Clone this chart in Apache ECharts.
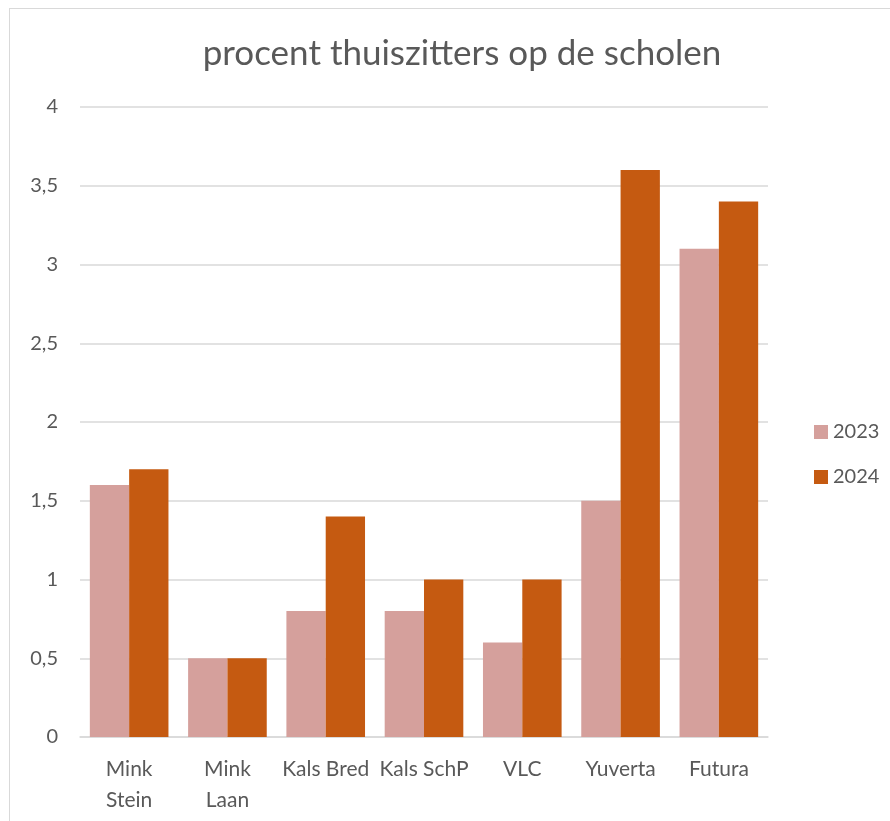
<!DOCTYPE html>
<html>
<head>
<meta charset="utf-8">
<script src="https://cdn.jsdelivr.net/npm/echarts@6/dist/echarts.min.js"></script>
<style>
  html, body { margin: 0; padding: 0; background: #fff; overflow: hidden; }
  #wrap { position: relative; width: 890px; height: 821px; }
  #frame { position: absolute; left: 9px; top: 8px; width: 1000px; height: 1000px;
           border: 1px solid #d9d9d9; box-sizing: border-box; pointer-events: none; }
  #chart { position: absolute; left: 0; top: 0; width: 890px; height: 821px; }
</style>
</head>
<body>
<div id="wrap">
  <div id="frame"></div>
  <div id="chart"></div>
</div>
<script>
// scholen en percentages thuiszitters
var scholen = ['Mink\nStein', 'Mink\nLaan', 'Kals Bred', 'Kals SchP', 'VLC', 'Yuverta', 'Futura'];
var jaren = ['2023', '2024'];
var waarden2023 = [1.6, 0.5, 0.8, 0.8, 0.6, 1.5, 3.1];
var waarden2024 = [1.7, 0.5, 1.4, 1.0, 1.0, 3.6, 3.4];
var kleuren = ['#d5a09c', '#c55a11'];

var myChart = echarts.init(document.getElementById('chart'));
var tekst = '#595959';
var font = 'Lato, "Open Sans", sans-serif';

var option = {
    animation: false,
    title: {
        text: 'procent thuiszitters op de scholen',
        left: 457, top: 31, textAlign: 'center',
        textStyle: { color: tekst, fontWeight: 'normal', fontSize: 35, fontFamily: font }
    },
    legend: {
        data: jaren,
        orient: 'vertical',
        left: 809, top: 417,
        itemWidth: 14, itemHeight: 14, itemGap: 25,
        icon: 'rect',
        textStyle: { color: tekst, fontSize: 20, fontFamily: font }
    },
    grid: { left: 80, right: 122, top: 107, bottom: 84, containLabel: false },
    xAxis: {
        type: 'category',
        data: scholen,
        axisLine: { lineStyle: { color: '#d9d9d9', width: 1.5 } },
        axisTick: { show: false },
        axisLabel: { color: tekst, fontSize: 21, fontFamily: font, margin: 17, lineHeight: 31, interval: 0 }
    },
    yAxis: {
        type: 'value',
        min: 0, max: 4, interval: 0.5,
        axisLine: { show: false },
        axisTick: { show: false },
        splitLine: { lineStyle: { color: '#d9d9d9', width: 1.5 } },
        axisLabel: {
            color: tekst, fontSize: 20, fontFamily: font, margin: 22,
            formatter: function (v) { return String(v).replace('.', ','); }
        }
    },
    series: [
        { name: jaren[0], type: 'bar', data: waarden2023, itemStyle: { color: kleuren[0] },
          barGap: '0%', barCategoryGap: '20%' },
        { name: jaren[1], type: 'bar', data: waarden2024, itemStyle: { color: kleuren[1] },
          barGap: '0%', barCategoryGap: '20%' }
    ]
};
myChart.setOption(option);
</script>
</body>
</html>
